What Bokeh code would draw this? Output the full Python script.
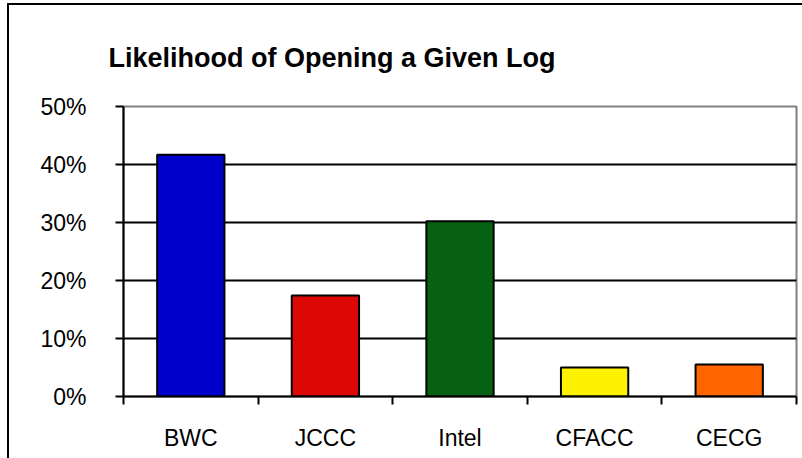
from bokeh.plotting import figure
from bokeh.models import Range1d, FixedTicker, NumeralTickFormatter, ColumnDataSource
from bokeh.embed import file_html
from bokeh.resources import INLINE

categories = ["BWC", "JCCC", "Intel", "CFACC", "CECG"]
values = [0.417, 0.174, 0.302, 0.050, 0.055]
colors = ["#0000CC", "#DD0806", "#066212", "#FFF200", "#FF6600"]
y_ticks = [0.0, 0.1, 0.2, 0.3, 0.4, 0.5]
title_text = "Likelihood of Opening a Given Log"

positions = [i + 0.5 for i in range(len(categories))]
src = ColumnDataSource(dict(x=positions, top=values, color=colors, cat=categories))

p = figure(width=793, height=453,
           x_range=Range1d(0, len(categories)), y_range=Range1d(0, 0.5),
           output_backend="svg", toolbar_location=None,
           min_border_left=114, min_border_right=8,
           min_border_top=101, min_border_bottom=64,
           title=title_text)
p.styles = {"margin-left": "7px", "margin-top": "3px",
            "border-left": "2px solid #000", "border-top": "2px solid #000",
            "box-sizing": "content-box"}

p.vbar(x="x", top="top", width=0.5, bottom=0, source=src,
       fill_color="color", line_color="black", line_width=2)

FONT = "Liberation Sans"
p.title.text_font = FONT
p.title.text_font_size = "27px"
p.title.text_font_style = "bold"
p.title.text_color = "black"
p.title.align = "left"
p.title.offset = -15
p.title.standoff = 67

p.outline_line_color = "#808080"
p.outline_line_width = 2

# y axis
p.yaxis.ticker = FixedTicker(ticks=y_ticks)
p.yaxis.formatter = NumeralTickFormatter(format="0%")
p.yaxis.major_tick_out = 8
p.yaxis.major_tick_in = 0
p.yaxis.minor_tick_line_color = None
p.yaxis.major_tick_line_width = 2
p.yaxis.axis_line_width = 2
p.yaxis.major_label_standoff = 29
p.yaxis.major_label_text_font = FONT
p.yaxis.major_label_text_font_size = "23px"
p.yaxis.major_label_text_color = "black"

# x axis
p.xaxis.ticker = FixedTicker(ticks=positions, minor_ticks=list(range(len(categories) + 1)))
p.xaxis.major_label_overrides = {pos: c for pos, c in zip(positions, categories)}
p.xaxis.major_tick_out = 0
p.xaxis.major_tick_in = 0
p.xaxis.minor_tick_out = 8
p.xaxis.minor_tick_in = 0
p.xaxis.minor_tick_line_color = "black"
p.xaxis.minor_tick_line_width = 2
p.xaxis.axis_line_width = 2
p.xaxis.major_label_standoff = 20
p.xaxis.major_label_text_font = FONT
p.xaxis.major_label_text_font_size = "23px"
p.xaxis.major_label_text_color = "black"

p.xgrid.visible = False
p.ygrid.ticker = FixedTicker(ticks=[0.1, 0.2, 0.3, 0.4])
p.ygrid.grid_line_color = "black"
p.ygrid.grid_line_width = 2

open("out.html", "w").write(file_html(p, INLINE))
